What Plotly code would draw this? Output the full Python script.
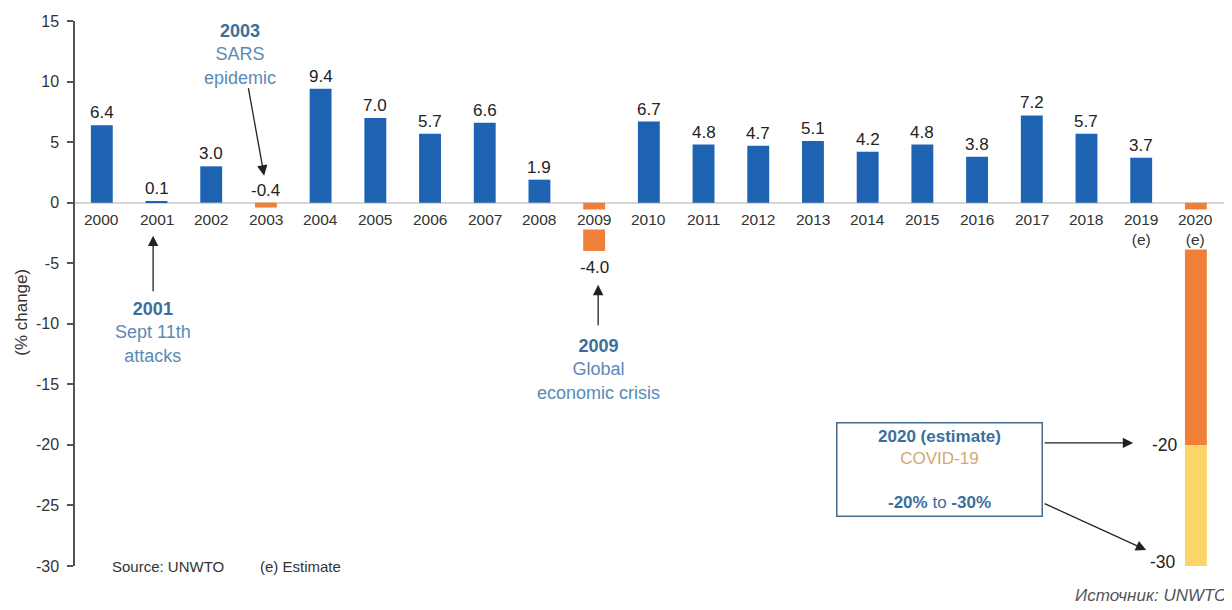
import plotly.graph_objects as go

years = list(range(2000, 2021))
growth = [6.4, 0.1, 3.0, -0.4, 9.4, 7.0, 5.7, 6.6, 1.9, -4.0, 6.7, 4.8, 4.7, 5.1, 4.2, 4.8, 3.8, 7.2, 5.7, 3.7, -20]
year_labels = [str(y) for y in years[:-2]] + ["2019<br>(e)", "2020<br>(e)"]
covid_low = -20
covid_high = -30
show_value = [True] * 20 + [False]
y_ticks = list(range(-30, 16, 5))
y_ticktext = [str(t) for t in y_ticks]  # hyphen minus as in the reference

BLUE = "#1e63b2"
ORANGE = "#f07f3a"
YELLOW = "#fcd467"
TXT_BLUE = "#5a8ab6"
TXT_BLUE_D = "#3c6e9c"
FONT = "Liberation Sans, Arial, sans-serif"

colors = [BLUE if v >= 0 else ORANGE for v in growth]

fig = go.Figure()
fig.add_trace(go.Bar(x=years, y=growth, marker=dict(color=colors, line=dict(width=0)),
                     width=0.4, hoverinfo="skip"))
fig.add_trace(go.Bar(x=[years[-1]], y=[covid_high - covid_low], base=[covid_low],
                     marker=dict(color=YELLOW, line=dict(width=0)), width=0.4, hoverinfo="skip"))

ann = []
# x tick labels on zero line with white background
for y, lab in zip(years, year_labels):
    ann.append(dict(x=y, y=0, xref="x", yref="y", text=lab, showarrow=False,
                    yanchor="top", yshift=-6, bgcolor="white", borderpad=1,
                    font=dict(size=15.5, color="#333", family=FONT)))
# value labels
for y, v, s in zip(years, growth, show_value):
    if not s:
        continue
    txt = f"{v:.1f}"
    if v <= -1:
        ann.append(dict(x=y, y=v, text=txt, showarrow=False, yanchor="top", yshift=-5,
                        font=dict(size=17, color="#222", family=FONT)))
    else:
        ann.append(dict(x=y, y=max(v, 0), text=txt, showarrow=False, yanchor="bottom", yshift=1,
                        font=dict(size=17, color="#222", family=FONT)))

def px2x(px):
    return 2000 + (px - 101.7) / 54.7

def px2y(py):
    return (203 - py) / 12.1

def arrow(head, tail):
    return dict(x=px2x(head[0]), y=px2y(head[1]), ax=px2x(tail[0]), ay=px2y(tail[1]),
                xref="x", yref="y", axref="x", ayref="y", text="", showarrow=True,
                arrowhead=2, arrowsize=1.6, arrowwidth=1.3, arrowcolor="#222")

ann.append(arrow((264, 176), (248, 87)))
ann.append(arrow((153, 236), (153, 293)))
ann.append(arrow((598, 285), (598, 327)))
ann.append(arrow((1133, 443), (1043, 443)))
ann.append(arrow((1146, 550), (1043, 503)))

ann.append(dict(x=px2x(240), y=15, yshift=2, text=f"<b style='color:{TXT_BLUE_D}'>2003</b><br>SARS<br>epidemic",
                showarrow=False, yanchor="top", font=dict(size=18, color=TXT_BLUE, family=FONT)))
ann.append(dict(x=px2x(153), y=px2y(297), text=f"<b style='color:{TXT_BLUE_D}'>2001</b><br>Sept 11th<br>attacks",
                showarrow=False, yanchor="top", font=dict(size=18, color=TXT_BLUE, family=FONT)))
ann.append(dict(x=px2x(598), y=px2y(334), text=f"<b style='color:{TXT_BLUE_D}'>2009</b><br>Global<br>economic crisis",
                showarrow=False, yanchor="top", font=dict(size=18, color=TXT_BLUE, family=FONT)))
ann.append(dict(x=px2x(939), y=px2y(470),
                text=f"<b>2020 (estimate)</b><br><span style='color:#d2a874'>COVID-19</span><br> <br><b>-20%</b> to <b>-30%</b>",
                showarrow=False, width=202, height=90, bordercolor="#46698e", borderwidth=1.5, borderpad=1,
                bgcolor="white", font=dict(size=17, color=TXT_BLUE_D, family=FONT)))
ann.append(dict(x=px2x(1165), y=covid_low, text="-20", showarrow=False,
                font=dict(size=17.5, color="#222", family=FONT)))
ann.append(dict(x=px2x(1163), y=px2y(562), text="-30", showarrow=False,
                font=dict(size=17.5, color="#222", family=FONT)))
ann.append(dict(x=px2x(110), y=-30, text="Source: UNWTO", showarrow=False, xanchor="left",
                font=dict(size=15, color="#333", family=FONT)))
ann.append(dict(x=px2x(258), y=-30, text="(e) Estimate", showarrow=False, xanchor="left",
                font=dict(size=15, color="#333", family=FONT)))
ann.append(dict(x=0, xref="paper", y=px2y(313), yref="y", text="(% change)", showarrow=False,
                textangle=-90, xanchor="center", xshift=-53, font=dict(size=17, color="#333", family=FONT)))
ann.append(dict(x=1.0, y=0, xref="paper", yref="paper", text="<i>Источник: UNWTO</i>", showarrow=False,
                xanchor="right", yanchor="top", xshift=-3, yshift=-18,
                font=dict(size=17, color="#555", family=FONT)))

# page body has an 8px margin: figure is sized/offset so that it fills the 1232x610 window
fig.update_layout(
    width=1224, height=602, margin=dict(l=67, r=0, t=13, b=44, autoexpand=False),
    paper_bgcolor="white", plot_bgcolor="white", barmode="overlay", showlegend=False,
    font=dict(family=FONT),
    xaxis=dict(range=[1999.51, 2020.66], visible=False, automargin=False),
    yaxis=dict(range=[-30, 15], tickvals=y_ticks, ticktext=y_ticktext, showgrid=False, automargin=False,
               showline=True, linecolor="#555", linewidth=1.5, ticks="outside", ticklen=6,
               tickcolor="#555", tickwidth=1.5, zeroline=True, zerolinecolor="#d6d6d6", zerolinewidth=1.5,
               ticklabelstandoff=5, tickfont=dict(size=16, color="#333")),
    yaxis2=dict(range=[-30, 15], overlaying="y", side="left", tickvals=y_ticks, automargin=False,
                showticklabels=False, ticks="inside", ticklen=5, tickcolor="#555", tickwidth=1.5,
                showgrid=False, zeroline=False, showline=False),
    annotations=ann,
)

fig.write_html("out.html")
